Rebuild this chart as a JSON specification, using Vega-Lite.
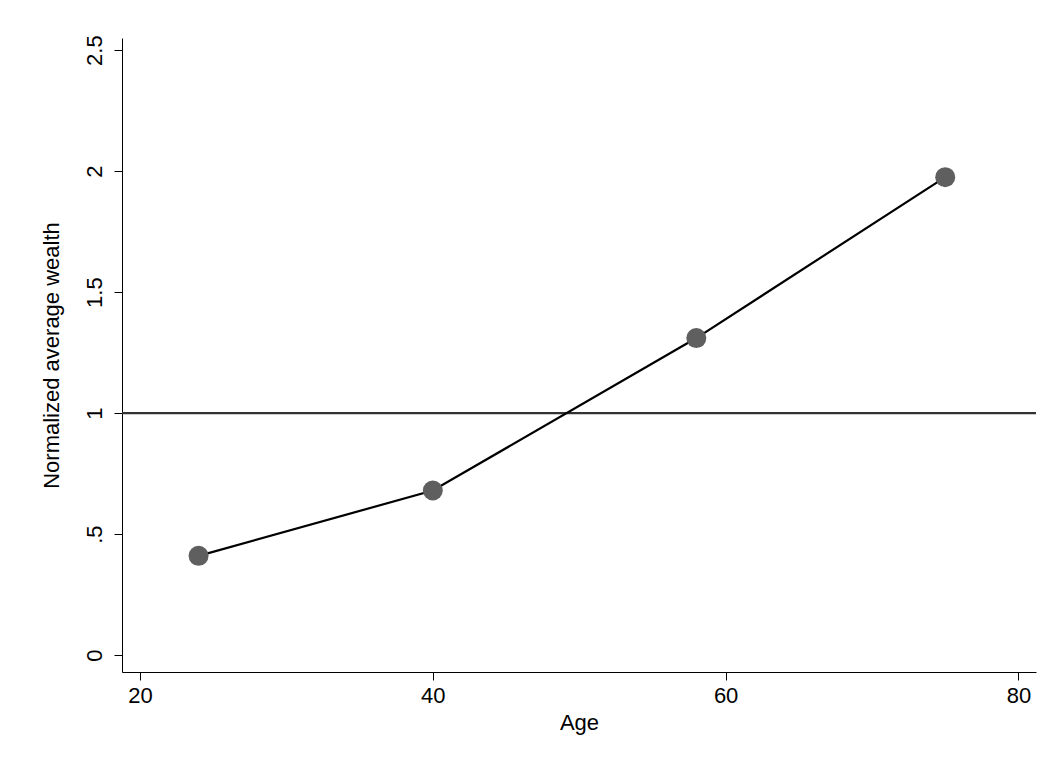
{
  "$schema": "https://vega.github.io/schema/vega-lite/v6.json",
  "width": 914,
  "height": 634,
  "autosize": "none",
  "padding": {"left": 122, "top": 38, "right": 20, "bottom": 99},
  "background": "white",
  "config": {"view": {"stroke": null}, "font": "Liberation Sans"},
  "data": {"values": [
    {"age": 24, "wealth": 0.41},
    {"age": 40, "wealth": 0.68},
    {"age": 58, "wealth": 1.31},
    {"age": 75, "wealth": 1.975}
  ]},
  "encoding": {
    "x": {"field": "age", "type": "quantitative",
      "scale": {"domain": [18.77, 81.2], "nice": false, "zero": false},
      "axis": {"values": [20, 40, 60, 80], "title": "Age", "grid": false, "domainColor": "black", "tickColor": "black", "tickSize": 8, "labelFontSize": 22, "titleFontSize": 22, "titleFontWeight": "normal", "labelColor": "black", "titleColor": "black", "labelPadding": 5, "titlePadding": 6}},
    "y": {"field": "wealth", "type": "quantitative",
      "scale": {"domain": [-0.07, 2.55], "nice": false, "zero": false},
      "axis": {"values": [0, 0.5, 1, 1.5, 2, 2.5], "labelExpr": "replace(format(datum.value, '~g'), /^0\\./, '.')", "title": "Normalized average wealth", "grid": false, "labelAngle": -90, "labelAlign": "center", "labelBaseline": "bottom", "domainColor": "black", "tickColor": "black", "tickSize": 8, "labelFontSize": 22, "titleFontSize": 22, "titleFontWeight": "normal", "labelColor": "black", "titleColor": "black", "labelPadding": 8, "titlePadding": 20}}
  },
  "layer": [
    {"data": {"values": [{"ref": 1}]}, "mark": {"type": "rule", "color": "#333", "strokeWidth": 2.2},
     "encoding": {"y": {"field": "ref", "type": "quantitative"}, "x": null}},
    {"mark": {"type": "line", "color": "black", "strokeWidth": 2.2}},
    {"mark": {"type": "point", "filled": true, "color": "#5f5f5f", "opacity": 1, "size": 400}}
  ]
}
